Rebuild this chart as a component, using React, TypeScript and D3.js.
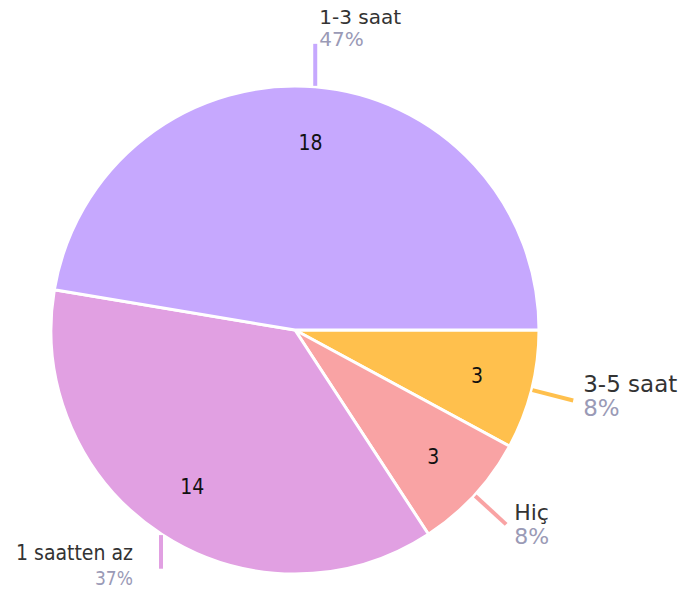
import React from "react";
import * as d3 from "d3";

const categories = ["3-5 saat", "Hiç", "1 saatten az", "1-3 saat"];
const values = [3, 3, 14, 18];
const percentLabels = ["8%", "8%", "37%", "47%"];
const colors = ["#FFC04D", "#F9A3A4", "#E1A0E2", "#C6A8FE"];

// label styling (not data)
const labelStyles = [
  { anchor: "start", dx: 10, nameDy: -8, pctDy: 16, nameSize: 23, pctSize: 23, lineAngle: null as number | null, condensed: false, fitWidth: 0 },
  { anchor: "start", dx: 8, nameDy: -4, pctDy: 20, nameSize: 22, pctSize: 22, lineAngle: null, condensed: false, fitWidth: 0 },
  { anchor: "end", dx: -28, nameDy: -9, pctDy: 16, nameSize: 21, pctSize: 19, lineAngle: Math.PI, condensed: true, fitWidth: 117 },
  { anchor: "start", dx: 4, nameDy: -20, pctDy: 2, nameSize: 20, pctSize: 20, lineAngle: 0, condensed: false, fitWidth: 0 },
];

const W = 689;
const H = 593;
const cx = 295;
const cy = 330;
const R = 244;
const lineLen = 42;

export default function App() {
  const pie = d3
    .pie<number>()
    .sort(null)
    .value((d) => d)
    .startAngle(Math.PI / 2)
    .endAngle(Math.PI / 2 + 2 * Math.PI);
  const arcs = pie(values);
  const arc = d3.arc<d3.PieArcDatum<number>>().innerRadius(0).outerRadius(R);
  const labelArc = d3.arc<d3.PieArcDatum<number>>().innerRadius(R * 0.77).outerRadius(R * 0.77);

  return (
    <svg width={W} height={H} style={{ position: "absolute", left: 0, top: 0 }}>
      <g transform={`translate(${cx},${cy})`}>
        {arcs.map((a, i) => (
          <path key={i} d={arc(a) || ""} fill={colors[i]} stroke="#fff" strokeWidth={3} strokeLinejoin="round" />
        ))}
        {arcs.map((a, i) => {
          const [x, y] = labelArc.centroid(a);
          return (
            <text
              key={"v" + i}
              x={x}
              y={y}
              textAnchor="middle"
              dominantBaseline="central"
              fontFamily="DejaVu Sans Condensed, DejaVu Sans, sans-serif"
              fontStretch="condensed"
              fontSize={21}
              fill="#111"
            >
              {values[i]}
            </text>
          );
        })}
        {arcs.map((a, i) => {
          const mid = (a.startAngle + a.endAngle) / 2;
          const st = labelStyles[i];
          const x0 = Math.sin(mid) * (R + 1);
          const y0 = -Math.cos(mid) * (R + 1);
          const dirA = st.lineAngle ?? mid;
          const len = st.lineAngle === Math.PI ? lineLen * 0.8 : lineLen;
          const x1 = x0 + Math.sin(dirA) * len;
          const y1 = y0 - Math.cos(dirA) * len;
          const lx = x1 + st.dx;
          const font = st.condensed
            ? "DejaVu Sans Condensed, DejaVu Sans, sans-serif"
            : "DejaVu Sans, Verdana, sans-serif";
          const fitProps = st.fitWidth ? { textLength: st.fitWidth, lengthAdjust: "spacingAndGlyphs" } : {};
          return (
            <g key={"l" + i}>
              <line x1={x0} y1={y0} x2={x1} y2={y1} stroke={colors[i]} strokeWidth={4} />
              <text
                x={lx}
                y={y1 + st.nameDy}
                textAnchor={st.anchor as any}
                fontFamily={font}
                fontStretch={st.condensed ? "condensed" : "normal"}
                fontSize={st.nameSize}
                fill="#333"
                {...(fitProps as any)}
              >
                {categories[i]}
              </text>
              <text
                x={lx}
                y={y1 + st.pctDy}
                textAnchor={st.anchor as any}
                fontFamily={font}
                fontSize={st.pctSize}
                fill="#9A9AB6"
              >
                {percentLabels[i]}
              </text>
            </g>
          );
        })}
      </g>
    </svg>
  );
}
